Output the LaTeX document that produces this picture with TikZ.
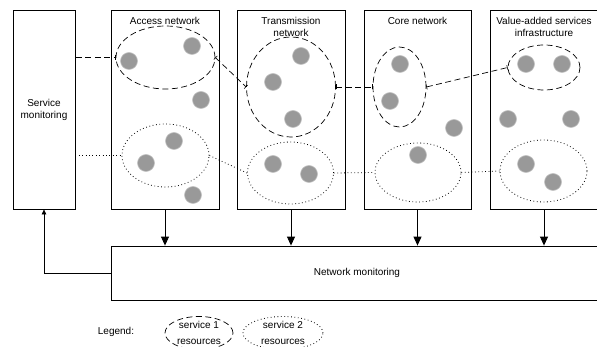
\documentclass[tikz,border=0pt]{standalone}
\usepackage{fontspec}
\setmainfont{Liberation Sans}
\usetikzlibrary{shapes.geometric,arrows.meta}
\definecolor{resgray}{HTML}{999999}
\begin{document}
\begin{tikzpicture}[x=1pt,y=-1pt,
  font=\fontsize{10}{12}\selectfont,
  box/.style={draw, line width=0.8pt, inner sep=0pt, rectangle},
  ttl/.style={align=center, inner sep=0pt},
  res/.style={circle, fill=resgray, draw=resgray!60, line width=0.6pt, minimum size=17pt, inner sep=0pt},
  svcone/.style={ellipse, draw, line width=0.7pt, dash pattern=on 6pt off 3.5pt, inner sep=0pt},
  svctwo/.style={ellipse, draw, line width=0.8pt, dash pattern=on 0.8pt off 2.6pt, inner sep=0pt},
  conone/.style={draw, line width=0.7pt, dash pattern=on 6pt off 3.5pt, {Bar[width=5pt,line width=0.6pt]}-{Bar[width=5pt,line width=0.6pt]}},
  contwo/.style={draw, line width=0.8pt, dash pattern=on 0.8pt off 2.6pt},
  arr/.style={draw, line width=0.9pt, -{Triangle[length=9pt,width=8pt]}},
  arrs/.style={draw, line width=0.7pt, -{Triangle[length=5pt,width=4.5pt]}}
]
\useasboundingbox (0,0) rectangle (597,347);

% boxes
\node[box, minimum width=62pt, minimum height=199pt, align=center] (sm) at (44,109.5) {Service\\monitoring};
\node[box, minimum width=108pt, minimum height=199pt] (acc) at (165,109.5) {};
\node[box, minimum width=108pt, minimum height=199pt] (tr) at (291,109.5) {};
\node[box, minimum width=107pt, minimum height=199pt] (core) at (417.5,109.5) {};
\node[box, minimum width=108pt, minimum height=199pt] (vas) at (544,109.5) {};
\node[box, minimum width=492pt, minimum height=54pt] (nm) at (357,273) {Network monitoring};

% titles
\node[ttl] (tacc) at (165,21) {Access network};
\node[ttl] (ttr) at (291,27) {Transmission\\network};
\node[ttl] (tcore) at (417.5,21) {Core network};
\node[ttl] (tvas) at (544,27) {Value-added services\\infrastructure};

% resources
\node[res] (a1) at (129,61) {};
\node[res] (a2) at (192,46) {};
\node[res] (a3) at (201,100) {};
\node[res] (a4) at (174,141) {};
\node[res] (a5) at (146,163) {};
\node[res] (a6) at (193,195) {};
\node[res] (t1) at (301,56) {};
\node[res] (t2) at (273,82) {};
\node[res] (t3) at (293,119) {};
\node[res] (t4) at (273,164) {};
\node[res] (t5) at (309,174) {};
\node[res] (c1) at (400,64) {};
\node[res] (c2) at (390,101) {};
\node[res] (c3) at (454,128) {};
\node[res] (c4) at (418,155) {};
\node[res] (v1) at (526,64) {};
\node[res] (v2) at (562,64) {};
\node[res] (v3) at (508,119) {};
\node[res] (v4) at (571,119) {};
\node[res] (v5) at (526,164) {};
\node[res] (v6) at (553,182) {};

% service groupings
\node[svcone, minimum width=99pt, minimum height=63pt] (ao) at (165.5,57.5) {};
\node[svctwo, minimum width=87pt, minimum height=63pt] (aw) at (165.5,155.5) {};
\node[svcone, minimum width=89pt, minimum height=100pt] (to) at (291,87) {};
\node[svctwo, minimum width=86pt, minimum height=62pt] (tw) at (290.5,173) {};
\node[svcone, minimum width=53pt, minimum height=80pt] (co) at (399.5,87) {};
\node[svctwo, minimum width=86pt, minimum height=59pt] (cw) at (418,172.5) {};
\node[svcone, minimum width=72pt, minimum height=45pt] (vo) at (544,67.5) {};
\node[svctwo, minimum width=87pt, minimum height=62pt] (vw) at (543.5,171) {};

% service connectors
\draw[conone, {Bar[width=0pt]}-{Bar[width=5pt,line width=0.6pt]}] (sm.east |- ao.west) -- (ao.west);
\draw[conone] (ao.east) -- (to.west);
\draw[conone] (to.east) -- (co.west);
\draw[conone] (co.east) -- (vo.west);
\draw[contwo] (sm.east |- aw.west) -- (aw.west);
\draw[contwo] (aw.east) -- (tw.west);
\draw[contwo] (tw.east) -- (cw.west);
\draw[contwo] (cw.east) -- (vw.west);

% monitoring arrows
\draw[arr] (acc.south) -- (acc.south |- nm.north);
\draw[arr] (tr.south) -- (tr.south |- nm.north);
\draw[arr] (core.south) -- (core.south |- nm.north);
\draw[arr] (vas.south) -- (vas.south |- nm.north);
\draw[arrs] (nm.west) -| (sm.south);

% legend
\node[ttl] (leg) at (116,332) {Legend:};
\node[svcone, minimum width=68pt, minimum height=24pt, align=center, font=\fontsize{10}{16}\selectfont] (l1) at (199,333) {service 1\\resources};
\node[svctwo, minimum width=80pt, minimum height=24pt, align=center, font=\fontsize{10}{16}\selectfont] (l2) at (283,333) {service 2\\resources};
\end{tikzpicture}
\end{document}
